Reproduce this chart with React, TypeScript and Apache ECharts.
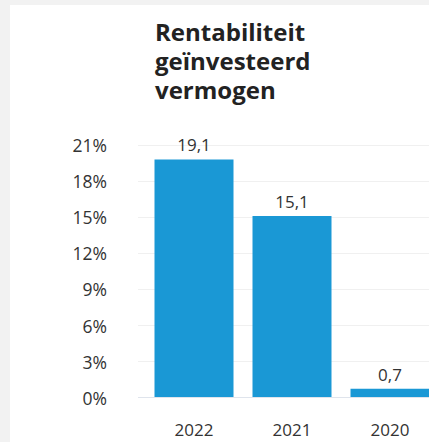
import React, { useEffect, useRef } from "react";
import * as echarts from "echarts";

const titleText = "Rentabiliteit\ngeïnvesteerd\nvermogen";
const categories = ["2022", "2021", "2020"];
const barValues = [19.8, 15.1, 0.75];
const valueLabels = ["19,1", "15,1", "0,7"];
const yTicks = [0, 3, 6, 9, 12, 15, 18, 21];

export default function App() {
  const ref = useRef<HTMLDivElement>(null);
  useEffect(() => {
    if (!ref.current) return;
    const chart = echarts.init(ref.current, null, { renderer: "svg" });
    const font = "'Open Sans', sans-serif";
    chart.setOption({
      animation: false,
      backgroundColor: "#ffffff",
      title: {
        text: titleText,
        left: 145,
        top: 12,
        padding: 0,
        textStyle: {
          fontFamily: font,
          fontWeight: "bold",
          fontSize: 24,
          lineHeight: 29,
          color: "#222222",
        },
      },
      grid: [
        { left: 128, right: 0, top: 140, bottom: 44.3 },
        { left: 135, right: 0, top: 140, bottom: 44.3 },
      ],
      xAxis: [
        { type: "category", gridIndex: 0, data: categories, show: false },
        {
          type: "category",
          gridIndex: 1,
          data: categories,
          axisLine: { show: false },
          axisTick: { show: false },
          axisLabel: {
            margin: 23,
            fontFamily: font,
            fontSize: 17,
            color: "#333333",
          },
        },
      ],
      yAxis: [
        {
          type: "value",
          gridIndex: 0,
          min: 0,
          max: 21,
          interval: 3,
          axisLine: { show: false },
          axisTick: { show: false },
          splitLine: { lineStyle: { color: "#f0f0f0", width: 1 } },
          axisLabel: {
            margin: 31,
            fontFamily: font,
            fontSize: 17.5,
            color: "#333333",
            formatter: (v: number) => (yTicks.includes(v) ? v + "%" : ""),
          },
        },
        {
          type: "value",
          gridIndex: 1,
          min: 0,
          max: 21,
          interval: 3,
          show: false,
        },
      ],
      series: [
        {
          type: "line",
          xAxisIndex: 0,
          yAxisIndex: 0,
          data: [],
          markLine: {
            silent: true,
            symbol: "none",
            label: { show: false },
            lineStyle: { color: "#dfe4ec", type: "solid", width: 1 },
            data: [{ yAxis: 0 }],
          },
        },
        {
          type: "bar",
          xAxisIndex: 1,
          yAxisIndex: 1,
          data: barValues,
          barWidth: 79,
          itemStyle: { color: "#1a98d5" },
          label: {
            show: true,
            position: "top",
            distance: 6,
            fontFamily: font,
            fontSize: 17,
            color: "#333333",
            formatter: (p: any) => valueLabels[p.dataIndex],
          },
        },
      ],
    });
    return () => chart.dispose();
  }, []);

  return (
    <div
      style={{
        position: "fixed",
        left: 0,
        top: 0,
        width: 429,
        height: 442,
        background: "#f2f2f2",
        overflow: "hidden",
      }}
    >
      <div
        ref={ref}
        style={{ position: "absolute", left: 10, top: 5, width: 429, height: 437 }}
      />
    </div>
  );
}
